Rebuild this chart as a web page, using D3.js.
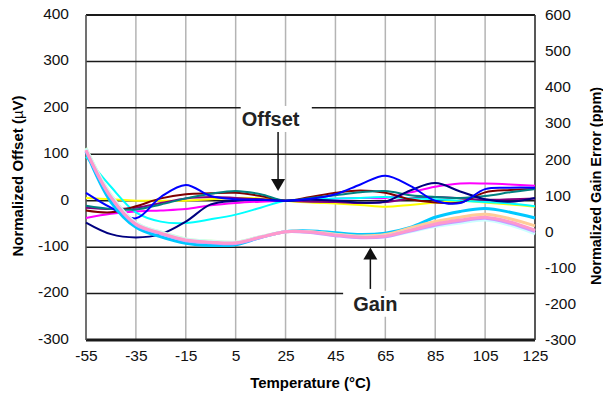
<!DOCTYPE html>
<html>
<head>
<meta charset="utf-8">
<script src="https://cdn.jsdelivr.net/npm/d3@7"></script>
<style>
  body { margin: 0; background: #fff; }
  svg { font-family: "Liberation Sans", Arial, sans-serif; }
  .tick text { font-size: 15.5px; fill: #111; }
</style>
</head>
<body>
<script>
// Temperatures (°C) where the curves are read
var temps = [-55, -45, -35, -25, -15, -5, 5, 15, 25, 35, 45, 55, 65, 75, 85, 95, 105, 115, 125];

// Tick labels
var xTicks = [-55, -35, -15, 5, 25, 45, 65, 85, 105, 125];
var leftTicks = [-300, -200, -100, 0, 100, 200, 300, 400];
var rightTicks = [-300, -200, -100, 0, 100, 200, 300, 400, 500, 600];

// Offset curves (µV, left axis)
var offsetYellow  = [6, 3, 0, 0, 0, 3, 6, 5, 0, -4, -6, -9, -13, -9, -4, 0, -4, -8, -13];
var offsetPurple  = [-15, -18, -15, -5, 5, 8, 6, 3, 0, -2, -3, -5, -3, 5, 8, 5, 2, 3, 5];
var offsetMagenta = [-37, -28, -23, -21, -18, -10, -5, -2, 0, 2, 4, 6, 6, 18, 30, 37, 37, 35, 32];
var offsetCyan    = [95, 30, -25, -45, -48, -40, -30, -15, 0, 3, 5, 6, 8, 5, 3, 0, -3, -6, -12];
var offsetMaroon  = [-21, -25, -12, 5, 14, 16, 17, 10, 0, 8, 17, 22, 17, 3, -4, -4, 18, 23, 25];
var offsetTeal    = [-11, -18, -19, -8, 5, 15, 21, 14, 0, 6, 12, 18, 21, 12, 8, 6, 10, 18, 25];
var offsetNavy    = [-47, -72, -79, -72, -45, -8, 0, 2, 0, 2, 0, -4, -2, 22, 38, 20, 3, -2, 6];
var offsetBlue    = [17, -15, -38, 8, 34, 10, 3, 2, 0, 4, 14, 35, 54, 32, 0, -5, 25, 28, 28];

// Gain error curves (ppm, right axis)
var gainSkyBlue    = [222, 82, 12, -14, -32, -38, -36, -16, 0, 2, -3, -8, -4, 12, 40, 56, 64, 54, 38];
var gainPeach      = [228, 98, 22, -3, -22, -28, -30, -14, 0, 0, -7, -12, -8, 10, 28, 40, 48, 36, 16];
var gainLightGreen = [232, 102, 25, -1, -20, -26, -29, -14, 0, -1, -8, -14, -11, 5, 20, 30, 38, 24, 2];
var gainLightCyan  = [230, 100, 24, -2, -21, -27, -29, -14, 0, -2, -10, -16, -14, 0, 14, 24, 32, 18, -6];
var gainLavender   = [224, 94, 19, -6, -25, -31, -33, -16, 0, -2, -11, -17, -14, 2, 18, 29, 37, 23, 0];
var gainPink       = [226, 96, 21, -4, -23, -29, -31, -15, 0, -1, -9, -15, -12, 4, 21, 32, 40, 27, 4];

var offsetSeries = [
  { values: offsetYellow, color: "#ffff00" },
  { values: offsetPurple, color: "#800080" },
  { values: offsetMagenta, color: "#ff00ff" },
  { values: offsetCyan, color: "#00ffff" },
  { values: offsetMaroon, color: "#800000" },
  { values: offsetTeal, color: "#008080" },
  { values: offsetNavy, color: "#000080" },
  { values: offsetBlue, color: "#0000ff" }
];
var gainSeries = [
  { values: gainSkyBlue, color: "#00c8ff" },
  { values: gainPeach, color: "#ffcc99" },
  { values: gainLightGreen, color: "#ccffcc" },
  { values: gainLightCyan, color: "#ccffff" },
  { values: gainLavender, color: "#cc99ff" },
  { values: gainPink, color: "#ff99cc" }
];

var width = 603;
var height = 398;
var margin = { top: 15, right: 68, bottom: 58, left: 86 };

var svg = d3.select("body")
  .append("svg")
  .attr("width", width)
  .attr("height", height);

// Scales
var xScale = d3.scaleLinear().domain([-55, 125]).range([margin.left, width - margin.right]);
var yLeft = d3.scaleLinear().domain([-300, 400]).range([height - margin.bottom, margin.top]);
var yRight = d3.scaleLinear().domain([-300, 600]).range([height - margin.bottom, margin.top]);

// Vertical grid lines
svg.append("g")
  .selectAll("line")
  .data(xTicks)
  .enter().append("line")
  .attr("x1", function(d) { return xScale(d); })
  .attr("x2", function(d) { return xScale(d); })
  .attr("y1", yLeft(400))
  .attr("y2", yLeft(-300))
  .style("stroke", "#b4b4b4")
  .style("stroke-width", 1.5);

// Horizontal grid lines
svg.append("g")
  .selectAll("line")
  .data(leftTicks)
  .enter().append("line")
  .attr("x1", xScale(-55))
  .attr("x2", xScale(125))
  .attr("y1", function(d) { return yLeft(d); })
  .attr("y2", function(d) { return yLeft(d); })
  .style("stroke", "#1a1a1a")
  .style("stroke-width", function(d) { return d == -300 ? 3 : (d == 400 ? 2 : 1.5); });

// Side borders
svg.append("line")
  .attr("x1", xScale(-55)).attr("x2", xScale(-55))
  .attr("y1", yLeft(400)).attr("y2", yLeft(-300))
  .style("stroke", "#555").style("stroke-width", 1.5);
svg.append("line")
  .attr("x1", xScale(125)).attr("x2", xScale(125))
  .attr("y1", yLeft(400)).attr("y2", yLeft(-300))
  .style("stroke", "#333").style("stroke-width", 1.5);

// Curves
var offsetLine = d3.line()
  .x(function(d, i) { return xScale(temps[i]); })
  .y(function(d) { return yLeft(d); })
  .curve(d3.curveCatmullRom.alpha(0.5));

var gainLine = d3.line()
  .x(function(d, i) { return xScale(temps[i]); })
  .y(function(d) { return yRight(d); })
  .curve(d3.curveCatmullRom.alpha(0.5));

svg.append("g")
  .selectAll("path")
  .data(offsetSeries)
  .enter().append("path")
  .attr("d", function(s) { return offsetLine(s.values); })
  .style("fill", "none")
  .style("stroke", function(s) { return s.color; })
  .style("stroke-width", 2);

svg.append("g")
  .selectAll("path")
  .data(gainSeries)
  .enter().append("path")
  .attr("d", function(s) { return gainLine(s.values); })
  .style("fill", "none")
  .style("stroke", function(s) { return s.color; })
  .style("stroke-width", 3);

// Axes (labels only), plain hyphen for negatives like the original
var plain = function(d) { return String(d); };
var xAxis = d3.axisBottom(xScale).tickValues(xTicks).tickSize(0).tickPadding(10).tickFormat(plain);
var leftAxis = d3.axisLeft(yLeft).tickValues(leftTicks).tickSize(0).tickPadding(17).tickFormat(plain);
var rightAxis = d3.axisRight(yRight).tickValues(rightTicks).tickSize(0).tickPadding(10).tickFormat(plain);

svg.append("g")
  .attr("transform", "translate(0," + yLeft(-300) + ")")
  .call(xAxis)
  .call(function(g) { g.select(".domain").remove(); });

svg.append("g")
  .attr("transform", "translate(" + xScale(-55) + ",0)")
  .call(leftAxis)
  .call(function(g) { g.select(".domain").remove(); })
  .selectAll("text").attr("dy", "0.22em");

svg.append("g")
  .attr("transform", "translate(" + xScale(125) + ",0)")
  .call(rightAxis)
  .call(function(g) { g.select(".domain").remove(); })
  .selectAll("text").attr("dy", "0.3em");

svg.selectAll(".tick text").style("font-family", "'Liberation Sans', Arial, sans-serif");

// Axis titles
svg.append("text")
  .attr("x", (xScale(-55) + xScale(125)) / 2)
  .attr("y", 388)
  .style("text-anchor", "middle")
  .style("font-weight", "bold")
  .style("font-size", "15px")
  .text("Temperature (°C)");

var leftTitle = svg.append("text")
  .attr("transform", "translate(23," + 176 + ") rotate(-90)")
  .style("text-anchor", "middle")
  .style("font-weight", "bold")
  .style("font-size", "15px");
leftTitle.append("tspan").text("Normalized Offset (");
leftTitle.append("tspan").style("font-weight", "normal").text("µ");
leftTitle.append("tspan").text("V)");

svg.append("text")
  .attr("transform", "translate(601," + 186 + ") rotate(-90)")
  .style("text-anchor", "middle")
  .style("font-weight", "bold")
  .style("font-size", "14.5px")
  .text("Normalized Gain Error (ppm)");

// Annotations: label with white box and an arrow pointing to the curves
var annotations = [
  { text: "Offset", tx: 19, ty: 161, padL: 1, padR: 12, ax: 22, from: 148, to: 21 },
  { text: "Gain", tx: 61, ty: -237, padL: 10, padR: 2, ax: 59, from: -190, to: -101 }
];

annotations.forEach(function(a) {
  var label = svg.append("text")
    .attr("x", xScale(a.tx))
    .attr("y", yLeft(a.ty))
    .style("text-anchor", "middle")
    .style("font-weight", "bold")
    .style("font-size", "20px")
    .style("fill", "#222")
    .text(a.text);
  var bb = label.node().getBBox();
  svg.insert("rect", function() { return label.node(); })
    .attr("x", bb.x - a.padL)
    .attr("y", bb.y - 2)
    .attr("width", bb.width + a.padL + a.padR)
    .attr("height", bb.height + 4)
    .style("fill", "#fff");

  var x0 = xScale(a.ax);
  var yFrom = yLeft(a.from);
  var yTip = yLeft(a.to);
  var dir = yTip > yFrom ? 1 : -1;
  svg.append("line")
    .attr("x1", x0).attr("x2", x0)
    .attr("y1", yFrom).attr("y2", yTip - dir * 10)
    .style("stroke", "#111")
    .style("stroke-width", 1.5);
  svg.append("path")
    .attr("d", "M" + (x0 - 7) + "," + (yTip - dir * 12) + "L" + (x0 + 7) + "," + (yTip - dir * 12) + "L" + x0 + "," + yTip + "Z")
    .style("fill", "#111");
});
</script>
</body>
</html>
